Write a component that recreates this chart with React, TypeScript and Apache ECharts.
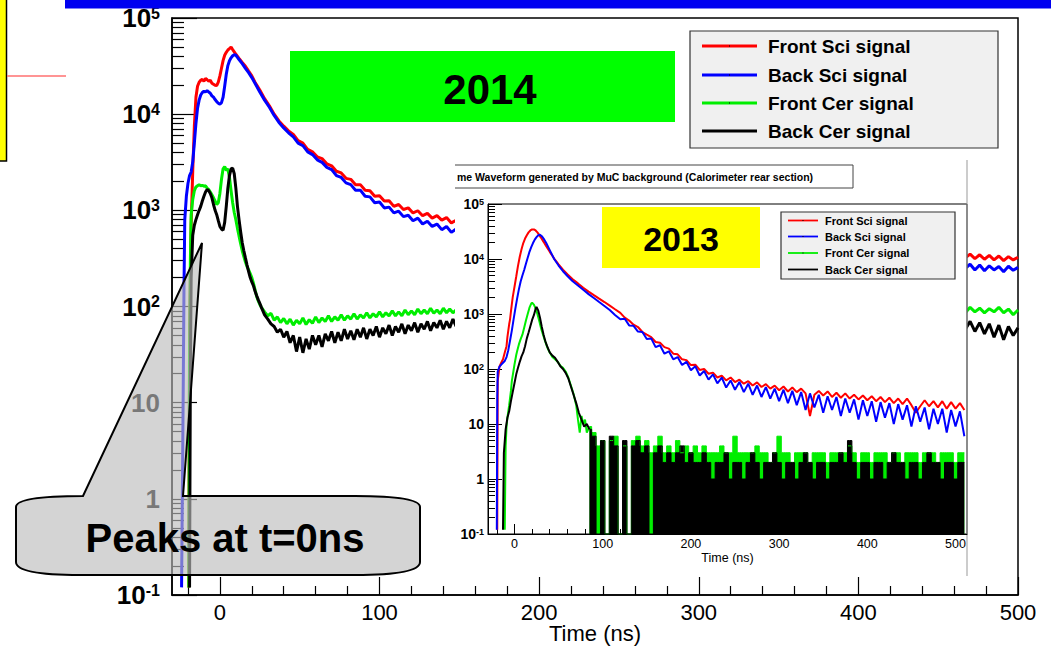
import React, { useEffect, useRef } from "react";
import * as echarts from "echarts";

type Pt = [number, number];

// ================= 2014 (main plot) =================
const mainFrontSci: Pt[] = [
  [-19.5, 0.12], [-19, 60], [-18, 700], [-17, 2600], [-16, 7500], [-15, 15000], [-14, 19500], [-13, 21500],
  [-12, 22500], [-11, 23000], [-10, 22000], [-9, 23500], [-8, 22800], [-7, 22000], [-6, 22500], [-5, 21000],
  [-4, 20500], [-3, 20000], [-2, 19800], [-1, 21500], [0, 25000], [1, 30000], [2, 36000], [3, 41000],
  [4, 44000], [5, 46500], [6, 48000], [7, 50000], [8, 47000], [9, 44500], [10, 42000], [12, 38000],
  [14, 34500], [16, 31500], [18, 28000], [20, 25000], [22, 21500], [25, 17800], [28, 14500], [31, 12200],
  [34, 10000], [37, 8500], [40, 7500], [43, 6700], [46, 6150], [49, 5300], [52, 5000], [55, 4300],
  [58, 4050], [61, 3600], [64, 3450], [67, 3050], [70, 2900], [73, 2550], [76, 2450], [79, 2150],
  [82, 2100], [85, 1850], [88, 1850], [91, 1620], [94, 1600], [97, 1400], [100, 1420], [103, 1250],
  [106, 1260], [109, 1100], [112, 1150], [115, 1020], [118, 1060], [121, 940], [124, 990], [127, 880],
  [130, 930], [133, 830], [136, 880], [139, 790], [142, 840], [145, 740], [148, 790], [151, 720],
  [180, 650], [220, 560], [260, 500], [300, 450], [340, 410], [380, 380], [420, 360], [460, 340],
  [464, 345], [467, 320], [470, 350], [473, 315], [476, 345], [479, 310], [482, 340], [485, 305],
  [488, 335], [491, 300], [494, 330], [497, 305], [500, 325],
];

const mainBackSci: Pt[] = [
  [-24, 0.12], [-23, 12], [-22.5, 150], [-22, 800], [-21, 1400], [-20, 1900], [-19, 2300], [-18, 2500],
  [-17, 3200], [-16, 5000], [-15, 8000], [-14, 11500], [-13, 14000], [-12, 15800], [-11, 16800], [-10, 17300],
  [-9, 17000], [-8, 17600], [-7, 17000], [-6, 16500], [-5, 15500], [-4, 15000], [-3, 14200], [-2, 13500],
  [-1, 13000], [0, 12700], [1, 13200], [2, 15000], [3, 19500], [4, 26000], [5, 32000], [6, 36000],
  [7, 38500], [8, 40500], [9, 41500], [10, 41000], [11, 39000], [12, 37000], [14, 33500], [16, 30000],
  [18, 27000], [20, 24000], [22, 21000], [25, 17000], [28, 14000], [31, 11800], [34, 9700], [37, 8200],
  [40, 7200], [43, 6400], [46, 5800], [49, 5000], [52, 4700], [55, 4050], [58, 3800], [61, 3350],
  [64, 3150], [67, 2800], [70, 2650], [73, 2300], [76, 2200], [79, 1930], [82, 1850], [85, 1620],
  [88, 1620], [91, 1400], [94, 1380], [97, 1200], [100, 1220], [103, 1060], [106, 1080], [109, 940],
  [112, 980], [115, 860], [118, 890], [121, 780], [124, 830], [127, 720], [130, 770], [133, 680],
  [136, 720], [139, 630], [142, 680], [145, 590], [148, 640], [151, 570],
  [180, 500], [220, 430], [260, 380], [300, 345], [340, 320], [380, 300], [420, 285], [460, 270],
  [464, 280], [467, 250], [470, 275], [473, 240], [476, 270], [479, 235], [482, 265], [485, 240],
  [488, 260], [491, 230], [494, 262], [497, 238], [500, 255],
];

const mainFrontCer: Pt[] = [
  [-19.5, 0.12], [-19, 30], [-18.5, 300], [-18, 900], [-17, 1300], [-16, 1600], [-15, 1750], [-14, 1800],
  [-13, 1850], [-12, 1800], [-11, 1820], [-10, 1780], [-9, 1800], [-8, 1700], [-7, 1650], [-6, 1550],
  [-5, 1450], [-4, 1350], [-3, 1250], [-2, 1150], [-1, 1200], [0, 1500], [1, 2100], [2, 2700],
  [3, 2850], [4, 2600], [5, 2700], [6, 2200], [7, 1600], [8, 1200], [9, 950], [10, 800],
  [11, 650], [12, 540], [13, 450], [14, 380], [15, 330], [16, 290], [17, 260], [18, 240],
  [19, 220], [20, 200], [21, 175], [22, 150], [23, 128], [24, 115], [25, 105], [26, 98],
  [28, 88], [30, 80], [32, 85], [34, 72], [36, 78], [38, 68], [40, 75], [42, 66], [44, 74], [46, 64],
  [48, 72], [50, 66], [52, 76], [54, 65], [56, 73], [58, 67], [60, 78], [62, 68], [64, 76], [66, 70],
  [68, 80], [70, 70], [72, 78], [74, 72], [76, 82], [78, 72], [80, 80], [82, 74], [84, 84], [86, 74],
  [88, 82], [90, 76], [92, 86], [94, 76], [96, 84], [98, 78], [100, 88], [102, 78], [104, 86], [106, 80],
  [108, 90], [110, 80], [112, 88], [114, 80], [116, 92], [118, 82], [120, 90], [122, 82], [124, 94],
  [126, 84], [128, 92], [130, 84], [132, 96], [134, 85], [136, 92], [138, 84], [140, 96], [142, 86],
  [144, 94], [146, 86], [148, 92], [150, 86], [200, 90], [300, 92], [400, 92],
  [464, 96], [467, 86], [470, 98], [473, 88], [476, 96], [479, 86], [482, 95], [485, 88], [488, 98],
  [491, 86], [494, 94], [497, 82], [500, 92],
];

const mainBackCer: Pt[] = [
  [-19, 0.12], [-18.5, 20], [-18, 200], [-17, 550], [-16, 700], [-15, 800], [-14, 900], [-13, 1000],
  [-12, 1100], [-11, 1250], [-10, 1400], [-9, 1550], [-8, 1650], [-7, 1600], [-6, 1500], [-5, 1350],
  [-4, 1150], [-3, 1000], [-2, 900], [-1, 780], [0, 680], [1, 640], [2, 620], [3, 750],
  [4, 1100], [5, 1700], [6, 2300], [7, 2700], [8, 2750], [9, 2400], [10, 1700], [11, 1100],
  [12, 800], [13, 600], [14, 460], [15, 380], [16, 320], [17, 270], [18, 230], [19, 200],
  [20, 180], [21, 165], [22, 145], [23, 130], [24, 118], [25, 108], [26, 98],
  [28, 82], [30, 74], [32, 66], [34, 62], [36, 54], [38, 58], [40, 48], [42, 55], [44, 42], [46, 50],
  [48, 34], [50, 48], [52, 33], [54, 46], [56, 36], [58, 50], [60, 40], [62, 50], [64, 38], [66, 52],
  [68, 44], [70, 55], [72, 42], [74, 54], [76, 44], [78, 58], [80, 46], [82, 56], [84, 45], [86, 58],
  [88, 48], [90, 60], [92, 46], [94, 58], [96, 50], [98, 62], [100, 48], [102, 60], [104, 52], [106, 64],
  [108, 50], [110, 62], [112, 54], [114, 66], [116, 52], [118, 64], [120, 56], [122, 68], [124, 54],
  [126, 66], [128, 58], [130, 70], [132, 56], [134, 68], [136, 60], [138, 72], [140, 58], [142, 70],
  [144, 60], [146, 74], [148, 62], [150, 70], [200, 65], [300, 66], [400, 68],
  [464, 72], [467, 58], [470, 70], [473, 55], [476, 68], [479, 52], [482, 66], [485, 48], [488, 64],
  [491, 45], [494, 62], [497, 50], [500, 60],
];

// ================= 2013 (inset plot) =================
const insetFrontSciPeak: Pt[] = [
  [-19.5, 0.12], [-19, 60], [-17, 110], [-15, 130], [-13, 150], [-11, 200], [-9, 260], [-8, 380],
  [-7, 500], [-6, 650], [-5, 800], [-4, 1100], [-3, 1500], [-2, 2000], [-1, 2500], [0, 3100],
  [2, 4800], [4, 7500], [6, 11000], [8, 15000], [10, 19500], [12, 23500], [14, 27000], [16, 30500],
  [18, 33000], [20, 34500], [22, 34500], [24, 33000], [26, 30500], [28, 27500], [30, 24500], [33, 20500],
  [36, 17000], [40, 13500], [45, 10200], [50, 8000], [55, 6400], [60, 5300], [66, 4300], [72, 3600],
  [78, 3000], [84, 2550], [90, 2200], [96, 1900], [102, 1650], [108, 1420], [114, 1220], [120, 1050],
];
const insetBackSciPeak: Pt[] = [
  [-20, 0.12], [-19.5, 30], [-19, 90], [-17, 110], [-15, 120], [-13, 130], [-11, 140], [-9, 165],
  [-7, 220], [-5, 330], [-3, 500], [-1, 800], [1, 1250], [3, 1900], [5, 2800], [7, 3900],
  [9, 5000], [11, 6300], [13, 8200], [15, 10500], [17, 13500], [19, 16500], [21, 19500], [23, 22500],
  [25, 25000], [27, 27000], [29, 27500], [31, 26000], [33, 23500], [36, 19500], [40, 14500], [45, 10000],
  [50, 7600], [55, 6000], [60, 4900], [66, 3950], [72, 3300], [78, 2750], [84, 2300], [90, 1950],
  [96, 1650], [102, 1400], [108, 1180], [114, 960], [120, 800],
];
const insetSciTailStart = 125;
const insetSciTailStep = 5;
const insetFrontSciTail = [
  860, 760, 640, 580, 470, 420, 380, 310, 300, 250, 235, 190, 185, 150, 145, 118, 120, 96, 100, 82,
  86, 70, 76, 62, 70, 58, 64, 54, 60, 50, 57, 47, 53, 44, 50, 41, 48, 39, 46, 38,
  44, 36, 14, 34, 40, 33, 39, 31, 37, 30, 36, 29, 34, 28, 33, 27, 32, 26, 31, 25,
  30, 24, 29, 23, 29, 22, 16, 21, 27, 21, 26, 20, 26, 19, 25, 19, 24, 18,
];
const insetBackSciTail = [
  820, 620, 610, 480, 470, 350, 360, 250, 270, 190, 210, 150, 165, 118, 135, 95, 112, 76, 92, 64,
  80, 55, 70, 46, 62, 42, 58, 38, 54, 34, 50, 31, 47, 29, 44, 26, 42, 24, 40, 22,
  38, 18, 36, 20, 34, 16, 32, 18, 31, 14, 29, 16, 28, 12, 27, 14, 26, 11, 25, 13,
  24, 10, 23, 12, 22, 9, 21, 11, 20, 8, 19, 10, 19, 7, 18, 9, 17, 6,
];
const insetFrontCerPeak: Pt[] = [
  [-11, 0.12], [-10, 4], [-9, 9], [-8, 13], [-6, 22], [-4, 40], [-3, 60], [-1, 95], [0, 120],
  [2, 180], [3, 210], [5, 280], [7, 350], [9, 420], [11, 560], [13, 760], [15, 1000], [17, 1300],
  [19, 1550], [20, 1600], [22, 1480], [24, 1250], [26, 1000], [28, 760], [30, 560], [32, 440],
  [34, 350], [36, 280], [38, 230], [40, 200], [43, 165], [46, 150], [49, 135], [52, 115], [55, 105],
  [58, 90], [61, 70], [64, 50], [67, 35], [70, 22], [72, 12], [74, 7], [76, 14], [78, 10], [80, 12],
  [82, 7], [85, 9],
];
const insetBackCerPeak: Pt[] = [
  [-13, 0.12], [-12, 3], [-10, 8], [-8, 13], [-6, 17], [-4, 26], [-2, 38], [0, 55], [2, 80],
  [4, 105], [6, 135], [8, 170], [10, 200], [12, 260], [14, 360], [16, 460], [18, 600], [20, 780],
  [22, 950], [24, 1250], [25, 1350], [27, 1150], [29, 850], [31, 580], [33, 420], [35, 320], [37, 260],
  [40, 200], [43, 175], [46, 160], [49, 135], [52, 112], [55, 100], [58, 85], [61, 68], [64, 48],
  [67, 34], [70, 24], [73, 16], [76, 12], [79, 9], [82, 10], [85, 8],
];
const insetCerTailStart = 85;
const insetCerTailStep = 5;
const insetFrontCerTail = [
  9, 7, 4, 5, 0.1, 5, 6, 0.1, 4, 0.1, 5, 6, 4, 5, 3, 4, 6, 3, 4, 3,
  5, 3, 4, 3, 4, 3, 4, 3, 3, 3, 4, 3, 3, 6, 3, 3, 3, 3, 4, 3,
  3, 2, 3, 6, 3, 3, 2, 3, 3, 3, 2, 3, 3, 3, 2, 3, 3, 3, 3, 4,
  3, 2, 3, 3, 2, 3, 3, 3, 2, 3, 3, 2, 3, 3, 3, 2, 3, 3, 3, 2,
  3, 3, 3, 2, 3, 3,
];
const insetBackCerTail = [
  8, 6, 0.1, 5, 0.1, 6, 4, 0.1, 5, 0.1, 4, 5, 3, 4, 0.1, 3, 4, 2, 3, 2,
  3, 4, 2, 3, 2, 2, 3, 2, 1, 2, 2, 3, 1, 2, 2, 1, 2, 3, 2, 1,
  2, 2, 3, 2, 1, 2, 2, 1, 2, 3, 2, 1, 2, 2, 1, 2, 2, 3, 2, 5,
  2, 1, 2, 2, 1, 2, 2, 1, 2, 3, 2, 2, 1, 2, 2, 1, 2, 3, 2, 2,
  1, 2, 2, 1, 2, 2,
];

const seriesNames = ["Front Sci signal", "Back Sci signal", "Front Cer signal", "Back Cer signal"];
const seriesColors = ["#ff0000", "#0000ff", "#00ee00", "#000000"];
const majorTimeTicks = [0, 100, 200, 300, 400, 500];
const minorTimeTicks = [-20, 20, 40, 60, 80, 120, 140, 160, 180, 220, 240, 260, 280, 320, 340, 360, 380, 420, 440, 460, 480];
const decadeExponents = [-1, 0, 1, 2, 3, 4];
const minorFactors = [2, 3, 4, 5, 6, 7, 8, 9];

const FONT = "Liberation Sans, Arial, Helvetica, sans-serif";

const sampled = (t0: number, step: number, vals: number[]): Pt[] => vals.map((v, i) => [t0 + i * step, v]);

const minorLogTicks = decadeExponents.flatMap((e) => minorFactors.map((f) => e + Math.log10(f)));

const expLabel = (v: number) => {
  if (v === 0) return "{b|1}";
  if (v === 1) return "{b|10}";
  return "{b|10}{s|" + v + "}";
};

let shapeRegistered = false;
function registerCallout() {
  if (shapeRegistered) return;
  const d =
    "M16,507 Q16,496 83,496 L202,243 L183,496 L355,496 Q420,496 420,507 L420,562 Q420,575 355,575 L80,575 Q16,575 16,562 Z";
  echarts.graphic.registerShape("calloutShape", echarts.graphic.extendPath(d, {}) as any);
  shapeRegistered = true;
}

function txt(x: number, y: number, text: string, size: number, weight: string, align: string, z: number, fill = "#000") {
  return {
    type: "text",
    z,
    style: {
      x, y, text, fill,
      fontSize: size, fontWeight: weight, fontFamily: FONT,
      align, verticalAlign: "middle",
      textAlign: align, textVerticalAlign: "middle",
    },
  };
}

function legendBlock(x: number, y: number, w: number, h: number, rows: number[], lx1: number, lx2: number, tx: number, fs: number, lw: number, z: number) {
  const els: any[] = [
    { type: "rect", z, shape: { x, y, width: w, height: h }, style: { fill: "#f0f0f0", stroke: "#333", lineWidth: 1.2 } },
  ];
  rows.forEach((ry, i) => {
    els.push({ type: "line", z: z + 1, shape: { x1: lx1, y1: ry, x2: lx2, y2: ry }, style: { stroke: seriesColors[i], lineWidth: lw } });
    els.push({ type: "rect", z: z + 2, shape: { x: (lx1 + lx2) / 2 - 0.5, y: ry - 0.5, width: 1, height: 1 }, style: { fill: "#000" } });
    els.push(txt(tx, ry, seriesNames[i], fs, "bold", "left", z + 1));
  });
  return els;
}

export default function App() {
  const ref = useRef<HTMLDivElement>(null);

  useEffect(() => {
    if (!ref.current) return;
    registerCallout();
    const chart = echarts.init(ref.current, undefined, { renderer: "svg" });

    const mainData = [mainFrontSci, mainBackSci, mainFrontCer, mainBackCer];
    const mainSeries = mainData.map((d, i) => ({
      name: seriesNames[i],
      type: "line",
      xAxisIndex: 0,
      yAxisIndex: 0,
      data: d,
      symbol: "none",
      showSymbol: false,
      z: 2,
      lineStyle: { color: seriesColors[i], width: 3 },
      itemStyle: { color: seriesColors[i] },
    }));

    const insetSci = [
      insetFrontSciPeak.concat(sampled(insetSciTailStart, insetSciTailStep, insetFrontSciTail)),
      insetBackSciPeak.concat(sampled(insetSciTailStart, insetSciTailStep, insetBackSciTail)),
    ];
    const insetLine = (name: string, data: Pt[], ci: number, z: number) => ({
      name,
      type: "line",
      xAxisIndex: 2,
      yAxisIndex: 3,
      data,
      symbol: "none",
      showSymbol: false,
      z,
      lineStyle: { color: seriesColors[ci], width: 2 },
      itemStyle: { color: seriesColors[ci] },
    });
    const insetArea = (name: string, data: Pt[], ci: number, z: number) => ({
      ...insetLine(name, data, ci, z),
      step: "middle",
      lineStyle: { color: seriesColors[ci], width: 1 },
      areaStyle: { color: seriesColors[ci], opacity: 1, origin: "start" },
    });

    const insetSeries = [
      insetLine("2013 " + seriesNames[0], insetSci[0], 0, 7),
      insetLine("2013 " + seriesNames[1], insetSci[1], 1, 7),
      insetLine("2013 " + seriesNames[2], insetFrontCerPeak, 2, 7),
      insetLine("2013 " + seriesNames[3], insetBackCerPeak, 3, 7),
      insetArea("2013 " + seriesNames[2] + " tail", sampled(insetCerTailStart, insetCerTailStep, insetFrontCerTail), 2, 7),
      insetArea("2013 " + seriesNames[3] + " tail", sampled(insetCerTailStart, insetCerTailStep, insetBackCerTail), 3, 7),
    ];

    const mainLine = { show: true, onZero: false, lineStyle: { color: "#000", width: 1.5 } };
    const insetAxisLine = { show: true, onZero: false, lineStyle: { color: "#000", width: 1 } };
    const noLine = { show: false, onZero: false };

    const option: any = {
      animation: false,
      backgroundColor: "#fff",
      grid: [
        { left: 172, top: 18, width: 846, height: 577, show: true, borderColor: "#000", borderWidth: 1.5, backgroundColor: "transparent", outerBoundsMode: "none", z: 0 },
        { left: 488, top: 204, width: 479, height: 330, show: true, borderColor: "#000", borderWidth: 1, backgroundColor: "transparent", outerBoundsMode: "none", z: 6 },
      ],
      xAxis: [
        {
          type: "value", gridIndex: 0, position: "bottom", min: -30, max: 500,
          axisLine: mainLine,
          axisTick: { show: true, inside: true, length: 18, customValues: majorTimeTicks, lineStyle: { color: "#000", width: 1.2 } },
          axisLabel: { customValues: majorTimeTicks, fontSize: 22, color: "#000", fontFamily: FONT, margin: 6 },
          splitLine: { show: false },
          name: "Time (ns)", nameLocation: "middle", nameGap: 27, nameMoveOverlap: false,
          nameTextStyle: { fontSize: 22, color: "#000", fontFamily: FONT },
        },
        {
          type: "value", gridIndex: 0, position: "bottom", min: -30, max: 500,
          axisLine: noLine,
          axisTick: { show: true, inside: true, length: 9, customValues: minorTimeTicks, lineStyle: { color: "#000", width: 1.2 } },
          axisLabel: { show: false },
          splitLine: { show: false },
        },
        {
          type: "value", gridIndex: 1, position: "bottom", min: -30, max: 513, z: 6,
          axisLine: insetAxisLine,
          axisTick: { show: true, inside: true, length: 10, customValues: majorTimeTicks, lineStyle: { color: "#000", width: 1 } },
          axisLabel: { customValues: majorTimeTicks, fontSize: 12.5, color: "#000", fontFamily: FONT, margin: 3 },
          splitLine: { show: false },
          name: "Time (ns)", nameLocation: "middle", nameGap: 17, nameMoveOverlap: false,
          nameTextStyle: { fontSize: 12.5, color: "#000", fontFamily: FONT },
        },
        {
          type: "value", gridIndex: 1, position: "bottom", min: -30, max: 513, z: 6,
          axisLine: noLine,
          axisTick: { show: true, inside: true, length: 5, customValues: minorTimeTicks, lineStyle: { color: "#000", width: 1 } },
          axisLabel: { show: false },
          splitLine: { show: false },
        },
      ],
      yAxis: [
        { type: "log", logBase: 10, gridIndex: 0, min: 0.1, max: 100000, show: false, axisLine: noLine },
        {
          type: "value", gridIndex: 0, position: "left", min: -1, max: 5, interval: 1,
          axisLine: mainLine,
          axisTick: { show: true, inside: true, length: 25, lineStyle: { color: "#000", width: 1.2 } },
          axisLabel: {
            formatter: expLabel, margin: 12, color: "#000",
            rich: {
              b: { fontSize: 26, fontWeight: "bold", fontFamily: FONT, color: "#000" },
              s: { fontSize: 16, fontWeight: "bold", fontFamily: FONT, color: "#000", verticalAlign: "top" },
            },
          },
          splitLine: { show: false },
        },
        {
          type: "value", gridIndex: 0, position: "left", min: -1, max: 5,
          axisLine: noLine,
          axisTick: { show: true, inside: true, length: 12, customValues: minorLogTicks, lineStyle: { color: "#000", width: 1.2 } },
          axisLabel: { show: false },
          splitLine: { show: false },
        },
        { type: "log", logBase: 10, gridIndex: 1, min: 0.1, max: 100000, show: false, axisLine: noLine },
        {
          type: "value", gridIndex: 1, position: "left", min: -1, max: 5, interval: 1, z: 6,
          axisLine: insetAxisLine,
          axisTick: { show: true, inside: true, length: 14, lineStyle: { color: "#000", width: 1 } },
          axisLabel: {
            formatter: expLabel, margin: 4, color: "#000",
            rich: {
              b: { fontSize: 14, fontWeight: "bold", fontFamily: FONT, color: "#000" },
              s: { fontSize: 9, fontWeight: "bold", fontFamily: FONT, color: "#000", verticalAlign: "top" },
            },
          },
          splitLine: { show: false },
        },
        {
          type: "value", gridIndex: 1, position: "left", min: -1, max: 5, z: 6,
          axisLine: noLine,
          axisTick: { show: true, inside: true, length: 7, customValues: minorLogTicks, lineStyle: { color: "#000", width: 1 } },
          axisLabel: { show: false },
          splitLine: { show: false },
        },
      ],
      series: [...mainSeries, ...insetSeries],
      graphic: {
        elements: [
          // inset picture background and frame pieces
          { type: "rect", z: 5, shape: { x: 455, y: 160, width: 512, height: 416 }, style: { fill: "#fff" } },
          { type: "line", z: 6, shape: { x1: 967, y1: 160, x2: 967, y2: 576 }, style: { stroke: "#999", lineWidth: 1 } },
          { type: "polyline", z: 6, shape: { points: [[455, 165], [853, 165], [853, 188], [455, 188]] }, style: { stroke: "#444", lineWidth: 1, fill: null } },
          txt(457, 177, "me Waveform generated by MuC background (Calorimeter rear section)", 10.5, "bold", "left", 6),
          // 2013 label
          { type: "rect", z: 8, shape: { x: 602, y: 207, width: 158, height: 61 }, style: { fill: "#ffff00" } },
          txt(681, 239, "2013", 34, "bold", "center", 9),
          ...legendBlock(781, 212, 174, 67, [220.5, 236.5, 253, 269.5], 788, 818, 825, 11, 1.8, 8),
          // 2014 label
          { type: "rect", z: 8, shape: { x: 290, y: 51, width: 385, height: 71 }, style: { fill: "#00ff00" } },
          txt(490, 89, "2014", 42, "bold", "center", 9),
          ...legendBlock(690, 31, 308, 117, [46, 75, 103, 131], 702, 757, 768, 19, 3, 8),
          // callout
          { type: "calloutShape", z: 9, x: 0, y: 0, scaleX: 1, scaleY: 1, style: { fill: "rgba(187,187,187,0.64)", stroke: "#000", lineWidth: 2 } },
          txt(225, 538, "Peaks at t=0ns", 40, "bold", "center", 10),
          // slide decorations
          { type: "rect", z: 10, shape: { x: 65, y: 0, width: 986, height: 8.5 }, style: { fill: "#0000f0" } },
          { type: "rect", z: 10, shape: { x: -2, y: -2, width: 8.5, height: 163 }, style: { fill: "#ffff00", stroke: "#000", lineWidth: 1.5 } },
          { type: "line", z: 10, shape: { x1: 7, y1: 76, x2: 66, y2: 76 }, style: { stroke: "#ff7070", lineWidth: 1.5 } },
        ],
      },
    };

    chart.setOption(option);
    return () => chart.dispose();
  }, []);

  return (
    <div
      ref={ref}
      style={{ position: "fixed", left: 0, top: 0, width: 1051, height: 646, background: "#fff" }}
    />
  );
}
